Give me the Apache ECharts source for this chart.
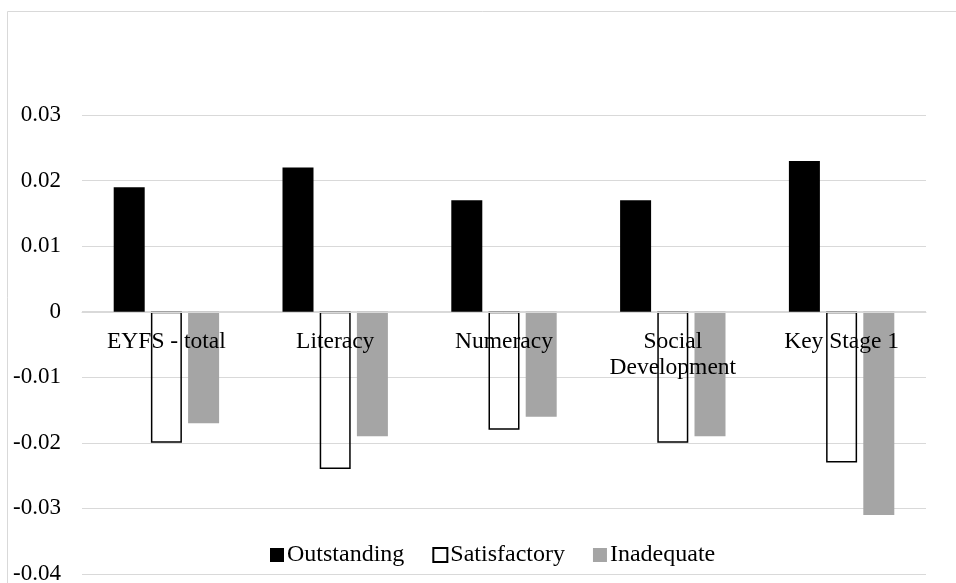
<!DOCTYPE html>
<html>
<head>
<meta charset="utf-8">
<script src="https://cdn.jsdelivr.net/npm/echarts@6/dist/echarts.min.js"></script>
<style>html,body{margin:0;padding:0;background:#fff;}#c{width:956px;height:583px;}</style>
</head>
<body>
<div id="c"></div>
<script>
const categories = ['EYFS - total', 'Literacy', 'Numeracy', 'Social\nDevelopment', 'Key Stage 1'];
const outstanding = [0.019, 0.022, 0.017, 0.017, 0.023];
const satisfactory = [-0.020, -0.024, -0.018, -0.020, -0.023];
const inadequate = [-0.017, -0.019, -0.016, -0.019, -0.031];

const font = '"Liberation Serif", "Times New Roman", serif';
const chart = echarts.init(document.getElementById('c'), null, {renderer: 'canvas'});
chart.setOption({
  animation: false,
  backgroundColor: '#fff',
  textStyle: {fontFamily: font},
  graphic: [{
    type: 'rect', silent: true, z: -1,
    shape: {x: 7.5, y: 11.5, width: 1200, height: 1200},
    style: {fill: 'none', stroke: '#d9d9d9', lineWidth: 1}
  }],
  grid: {left: 82, right: 30, top: 115, height: 459, containLabel: false, outerBoundsMode: 'none'},
  legend: {
    left: 270, top: 543, padding: 0,
    itemWidth: 14, itemHeight: 14, itemGap: 28,
    textStyle: {fontFamily: font, fontSize: 24, color: '#000', padding: [0, 0, 0, -2]},
    data: [
      {name: 'Outstanding', icon: 'rect'},
      {name: 'Satisfactory', icon: 'rect'},
      {name: 'Inadequate', icon: 'rect'}
    ]
  },
  xAxis: {
    type: 'category',
    data: categories,
    position: 'bottom',
    offset: -262,
    z: 10,
    axisLine: {onZero: false, lineStyle: {color: '#d9d9d9', width: 1}},
    axisTick: {show: false},
    axisLabel: {fontFamily: font, fontSize: 23.5, color: '#000', margin: 17, lineHeight: 26, interval: 0}
  },
  yAxis: {
    type: 'value',
    min: -0.04, max: 0.03, interval: 0.01,
    axisLine: {show: false},
    axisTick: {show: false},
    splitLine: {lineStyle: {color: '#d9d9d9', width: 1}},
    axisLabel: {
      fontFamily: font, fontSize: 23, color: '#000', margin: 21,
      formatter: v => String(+v.toFixed(2))
    }
  },
  series: [
    {name: 'Outstanding', type: 'bar', data: outstanding, barWidth: 31, barGap: '20%',
     itemStyle: {color: '#000'}},
    {name: 'Satisfactory', type: 'bar', data: satisfactory, barWidth: 31, barGap: '20%',
     itemStyle: {color: 'rgba(255,255,255,0)', borderColor: '#000', borderWidth: 1.5}},
    {name: 'Inadequate', type: 'bar', data: inadequate, barWidth: 31, barGap: '20%',
     itemStyle: {color: '#a5a5a5'}}
  ]
});
</script>
</body>
</html>
